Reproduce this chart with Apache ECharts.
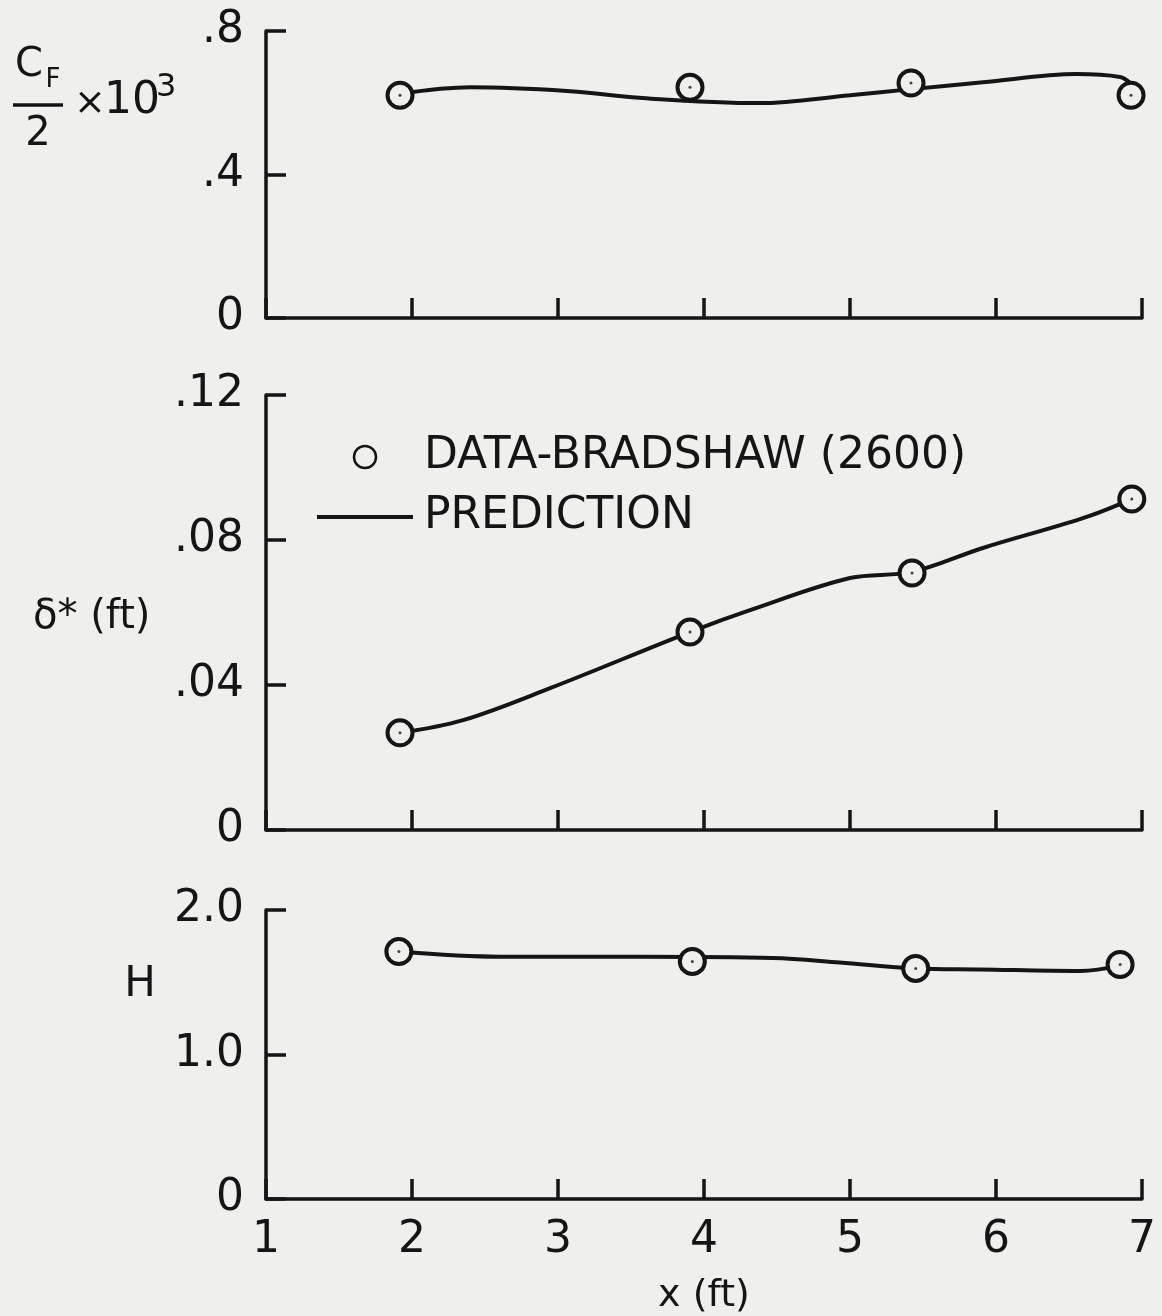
<!DOCTYPE html>
<html>
<head>
<meta charset="utf-8">
<title>Bradshaw (2600)</title>
<script src="https://cdn.jsdelivr.net/npm/echarts@6/dist/echarts.min.js"></script>
<style>
	html, body { margin: 0; padding: 0; background: #efefed; }
	#chart { width: 1162px; height: 1316px; }
</style>
</head>
<body>
<div id="chart"></div>
<script>
	// x ticks shared by the three panels
	var xTicks = [1, 2, 3, 4, 5, 6, 7];

	// Cf/2 x 10^3 panel
	var cfTicks = [0, 0.4, 0.8];
	var cfTickLabels = ['0', '.4', '.8'];
	var cfX = [1.918, 3.904, 5.418, 6.925];
	var cfData = [0.621, 0.643, 0.655, 0.621];
	var cfPredX = [1.918, 2.40, 3.06, 3.58, 4.38, 5.00, 5.42, 5.91, 6.55, 6.85, 6.92];
	var cfPredY = [0.625, 0.643, 0.633, 0.613, 0.599, 0.621, 0.638, 0.657, 0.680, 0.672, 0.655];

	// delta* (ft) panel
	var deltaTicks = [0, 0.04, 0.08, 0.12];
	var deltaTickLabels = ['0', '.04', '.08', '.12'];
	var deltaX = [1.918, 3.904, 5.425, 6.93];
	var deltaData = [0.0268, 0.0546, 0.0709, 0.0913];
	var deltaPredX = [1.918, 2.35, 2.95, 3.904, 4.32, 5.00, 5.425, 5.91, 6.60, 6.93];
	var deltaPredY = [0.0268, 0.0303, 0.0392, 0.0546, 0.0607, 0.0695, 0.0712, 0.0778, 0.0861, 0.0913];

	// H panel
	var hTicks = [0, 1, 2];
	var hTickLabels = ['0', '1.0', '2.0'];
	var hX = [1.91, 3.92, 5.45, 6.85];
	var hData = [1.712, 1.644, 1.596, 1.623];
	var hPredX = [1.91, 2.60, 3.56, 4.47, 4.93, 5.45, 5.89, 6.58, 6.85];
	var hPredY = [1.712, 1.676, 1.676, 1.668, 1.637, 1.596, 1.589, 1.578, 1.615];

	var DATA_NAME = 'DATA-BRADSHAW (2600)';
	var PRED_NAME = 'PREDICTION';
	var INK = '#151515';
	var BG = '#efefed';
	var FONT = 'DejaVu Sans';

	function pairs(xs, ys) {
		var out = [];
		for (var i = 0; i < xs.length; i++) {
			out.push([xs[i], ys[i]]);
		}
		return out;
	}

	function tick_formatter(ticks, labels) {
		return function (v) {
			for (var i = 0; i < ticks.length; i++) {
				if (Math.abs(v - ticks[i]) < 1e-9) return labels[i];
			}
			return '';
		};
	}

	function x_axis(idx, showLabels) {
		var ax = {
			type: 'value',
			gridIndex: idx,
			min: xTicks[0],
			max: xTicks[xTicks.length - 1],
			interval: 1,
			axisLine: { show: true, onZero: false, lineStyle: { color: INK, width: 3.5 } },
			axisTick: { show: true, inside: true, length: 20, lineStyle: { color: INK, width: 3.5 } },
			axisLabel: { show: showLabels, color: INK, fontSize: 44, fontFamily: FONT, margin: 20 },
			splitLine: { show: false }
		};
		if (showLabels) {
			ax.name = 'x (ft)';
			ax.nameLocation = 'middle';
			ax.nameGap = 78;
			ax.nameTextStyle = { color: INK, fontSize: 38, fontFamily: FONT };
		}
		return ax;
	}

	function y_axis(idx, ticks, labels) {
		return {
			type: 'value',
			gridIndex: idx,
			min: ticks[0],
			max: ticks[ticks.length - 1],
			interval: ticks[1] - ticks[0],
			axisLine: { show: true, lineStyle: { color: INK, width: 3.5 } },
			axisTick: { show: true, inside: true, length: 20, lineStyle: { color: INK, width: 3.5 } },
			axisLabel: {
				color: INK, fontSize: 44, fontFamily: FONT, margin: 22,
				formatter: tick_formatter(ticks, labels)
			},
			splitLine: { show: false }
		};
	}

	function panel_series(idx, xs, ys, px, py) {
		return [
			{
				name: PRED_NAME,
				type: 'line',
				xAxisIndex: idx,
				yAxisIndex: idx,
				data: pairs(px, py),
				smooth: 0.35,
				symbol: 'none',
				itemStyle: { color: INK },
				lineStyle: { color: INK, width: 4 },
				z: 2
			},
			{
				name: DATA_NAME,
				type: 'scatter',
				xAxisIndex: idx,
				yAxisIndex: idx,
				data: pairs(xs, ys),
				symbol: 'circle',
				symbolSize: 25,
				itemStyle: { color: BG, borderColor: INK, borderWidth: 4, opacity: 1 },
				z: 3
			},
			{
				name: 'center',
				type: 'scatter',
				xAxisIndex: idx,
				yAxisIndex: idx,
				data: pairs(xs, ys),
				symbol: 'circle',
				symbolSize: 3,
				itemStyle: { color: INK },
				silent: true,
				z: 4
			}
		];
	}

	function label_graphics() {
		var txt = function (x, y, s, size, align) {
			return {
				type: 'text', x: x, y: y,
				style: {
					text: s, fill: INK, fontSize: size, fontFamily: FONT,
					align: align || 'center', verticalAlign: 'middle'
				}
			};
		};
		return [
			txt(29, 66, 'C', 40),
			txt(53, 80, 'F', 26),
			{ type: 'line', shape: { x1: 13, y1: 105, x2: 63, y2: 105 }, style: { stroke: INK, lineWidth: 3.5 } },
			txt(38, 135, '2', 40),
			txt(90, 104, '\u00d7', 38),
			txt(104, 102, '10', 44, 'left'),
			txt(156, 88, '3', 32, 'left'),
			txt(33, 618, '\u03b4* (ft)', 40, 'left'),
			txt(140, 985, 'H', 42)
		];
	}

	function cal_option() {
		var series = []
			.concat(panel_series(0, cfX, cfData, cfPredX, cfPredY))
			.concat(panel_series(1, deltaX, deltaData, deltaPredX, deltaPredY))
			.concat(panel_series(2, hX, hData, hPredX, hPredY));

		var option = {
			backgroundColor: BG,
			animation: false,
			grid: [
				{ left: 266, right: 20, top: 31, height: 287 },
				{ left: 266, right: 20, top: 395, height: 435 },
				{ left: 266, right: 20, top: 910, height: 292 }
			],
			xAxis: [x_axis(0, false), x_axis(1, false), x_axis(2, true)],
			yAxis: [
				y_axis(0, cfTicks, cfTickLabels),
				y_axis(1, deltaTicks, deltaTickLabels),
				y_axis(2, hTicks, hTickLabels)
			],
			legend: {
				orient: 'vertical',
				left: 312,
				top: 430,
				itemWidth: 96,
				itemHeight: 22,
				itemGap: 16,
				selectedMode: false,
				textStyle: { color: INK, fontSize: 44, fontFamily: FONT, lineHeight: 44, padding: [0, 0, 0, 6] },
				data: [
					{ name: DATA_NAME, icon: 'circle', itemStyle: { color: BG, borderColor: INK, borderWidth: 2.5 } },
					{
						name: PRED_NAME,
						icon: 'path://M0,0 L96,0 L96,4 L0,4 Z',
						itemStyle: { color: INK, borderWidth: 0 },
						lineStyle: { color: INK, width: 3.5 }
					}
				]
			},
			graphic: label_graphics(),
			series: series
		};
		return option;
	}

	function draw_charts() {
		var myChart = echarts.init(document.getElementById('chart'));
		myChart.setOption(cal_option());
	}

	draw_charts();
</script>
</body>
</html>
